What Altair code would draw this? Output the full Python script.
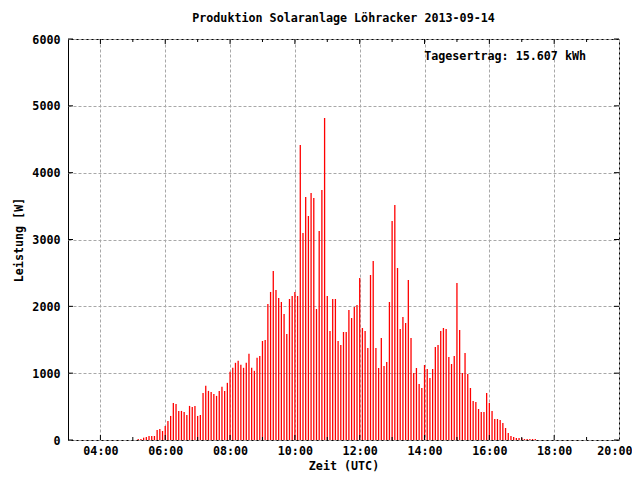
import altair as alt
import pandas as pd

# 5-minute samples starting 05:10 UTC (power in W)
first_sample = "05:10"
step_minutes = 5
power = [
    15, 15, 35, 45, 60, 60, 60, 150, 165, 135,          # 05:10-05:55
    210, 285, 360, 555, 540, 435, 435, 420, 375, 510, 495, 510,   # 06:00-06:55
    360, 375, 705, 810, 735, 720, 690, 660, 735, 795, 735, 855,   # 07:00-07:55
    1020, 1080, 1155, 1185, 1125, 1080, 1155, 1290, 1080, 1035, 1230, 1257,  # 08
    1481, 1496, 2035, 2215, 2529, 2245, 2125, 2065, 1885, 1586, 2110, 2155,  # 09
    2215, 2155, 4414, 3097, 3636, 3352, 3696, 3621, 1960, 3127, 3741, 4818,  # 10
    2155, 1631, 2110, 2110, 1481, 1421, 1616, 1616, 1945, 1825, 1990, 2020,  # 11
    2424, 1676, 1631, 1377, 2469, 2678, 1377, 1077, 1526, 1107, 1167, 2065,  # 12
    3277, 3516, 2574, 1661, 1840, 1751, 2394, 1526, 1003, 1077, 838, 778,    # 13
    1122, 1062, 928, 1062, 1392, 1421, 1631, 1676, 1661, 1242, 1137, 1257,   # 14
    2349, 1646, 1003, 1302, 988, 778, 584, 569, 464, 419, 419, 703,          # 15
    554, 434, 314, 314, 299, 254, 180, 105, 60, 45, 30, 30,                  # 16
    30, 15, 15, 15, 15, 15,                                                  # 17:00-17:25
]

x_label_hours = [4, 6, 8, 10, 12, 14, 16, 18, 20]
x_major_ticks = [4, 6, 8, 10, 12, 14, 16, 18]
x_minor_ticks = [5, 7, 9, 11, 13, 15, 17, 19]
y_ticks = [0, 1000, 2000, 3000, 4000, 5000, 6000]

title_text = "Produktion Solaranlage Löhracker 2013-09-14"
yield_text = "Tagesertrag: 15.607 kWh"

h0, m0 = map(int, first_sample.split(":"))
times = [(h0 * 60 + m0 + step_minutes * i) / 60 for i in range(len(power))]
df = pd.DataFrame({"t": times, "p": power, "z": [0] * len(power)})

W, H = 551, 401
FONT = "DejaVu Sans Mono"
FS = 11.7
GRID = "#a8a8a8"

xs = alt.Scale(domain=[3, 20], nice=False, zero=False)
ys = alt.Scale(domain=[0, 6000], nice=False)

x_axis = alt.Axis(values=x_label_hours, gridDash=[3, 2], gridColor=GRID,
                  labelExpr="(datum.value < 10 ? '0' : '') + datum.value + ':00'",
                  ticks=False, domain=False, labelPadding=5, titlePadding=4,
                  labelFlush=1, labelFlushOffset=13, labelOverlap=False, title="Zeit (UTC)")
y_axis = alt.Axis(values=y_ticks, gridDash=[3, 2], gridColor=GRID, format="d",
                  ticks=False, domain=False, labelPadding=8, titlePadding=7,
                  labelFlush=False, labelOverlap=False, title="Leistung [W]")

bars = alt.Chart(df).mark_rule(color="#ff0000", strokeWidth=1.3).encode(
    x=alt.X("t:Q", scale=xs, axis=x_axis),
    y=alt.Y("p:Q", scale=ys, axis=y_axis),
    y2="z:Q",
)

def tick_layer(vals, field, **enc):
    d = pd.DataFrame({field: vals})
    return alt.Chart(d).mark_rule(color="black", strokeWidth=1).encode(**enc)

bot_major = tick_layer(x_major_ticks, "t", x=alt.X("t:Q", scale=xs, axis=x_axis),
                       y=alt.value(H), y2=alt.value(H - 5))
bot_minor = tick_layer(x_minor_ticks, "t", x=alt.X("t:Q", scale=xs, axis=x_axis),
                       y=alt.value(H), y2=alt.value(H - 3))
top_major = tick_layer(x_major_ticks, "t", x=alt.X("t:Q", scale=xs, axis=x_axis),
                       y=alt.value(0), y2=alt.value(5))
top_minor = tick_layer(x_minor_ticks, "t", x=alt.X("t:Q", scale=xs, axis=x_axis),
                       y=alt.value(0), y2=alt.value(3))
left_t = tick_layer(y_ticks, "p", y=alt.Y("p:Q", scale=ys, axis=y_axis),
                    x=alt.value(0), x2=alt.value(5))
right_t = tick_layer(y_ticks, "p", y=alt.Y("p:Q", scale=ys, axis=y_axis),
                     x=alt.value(W), x2=alt.value(W - 5))

label = alt.Chart(pd.DataFrame({"s": [yield_text]})).mark_text(
    font=FONT, fontSize=FS, fontWeight="bold", align="right", baseline="middle", color="black"
).encode(text="s:N", x=alt.value(518), y=alt.value(17))

chart = alt.layer(bars, bot_major, bot_minor, top_major, top_minor, left_t, right_t, label).properties(
    width=W, height=H,
    background="white",
    title=alt.TitleParams(title_text, font=FONT, fontSize=FS, fontWeight="bold", color="black", offset=9),
    autosize=alt.AutoSizeParams(type="none"),
    padding={"left": 60, "top": 31, "right": 13, "bottom": 32},
).configure_view(stroke="black", strokeWidth=1).configure_axis(
    labelFont=FONT, labelFontSize=FS, labelFontWeight="bold", labelColor="black",
    titleFont=FONT, titleFontSize=FS, titleFontWeight="bold", titleColor="black",
    gridOpacity=1, gridWidth=1,
)

chart.save("out.html", embed_options={"renderer": "svg", "actions": False})
